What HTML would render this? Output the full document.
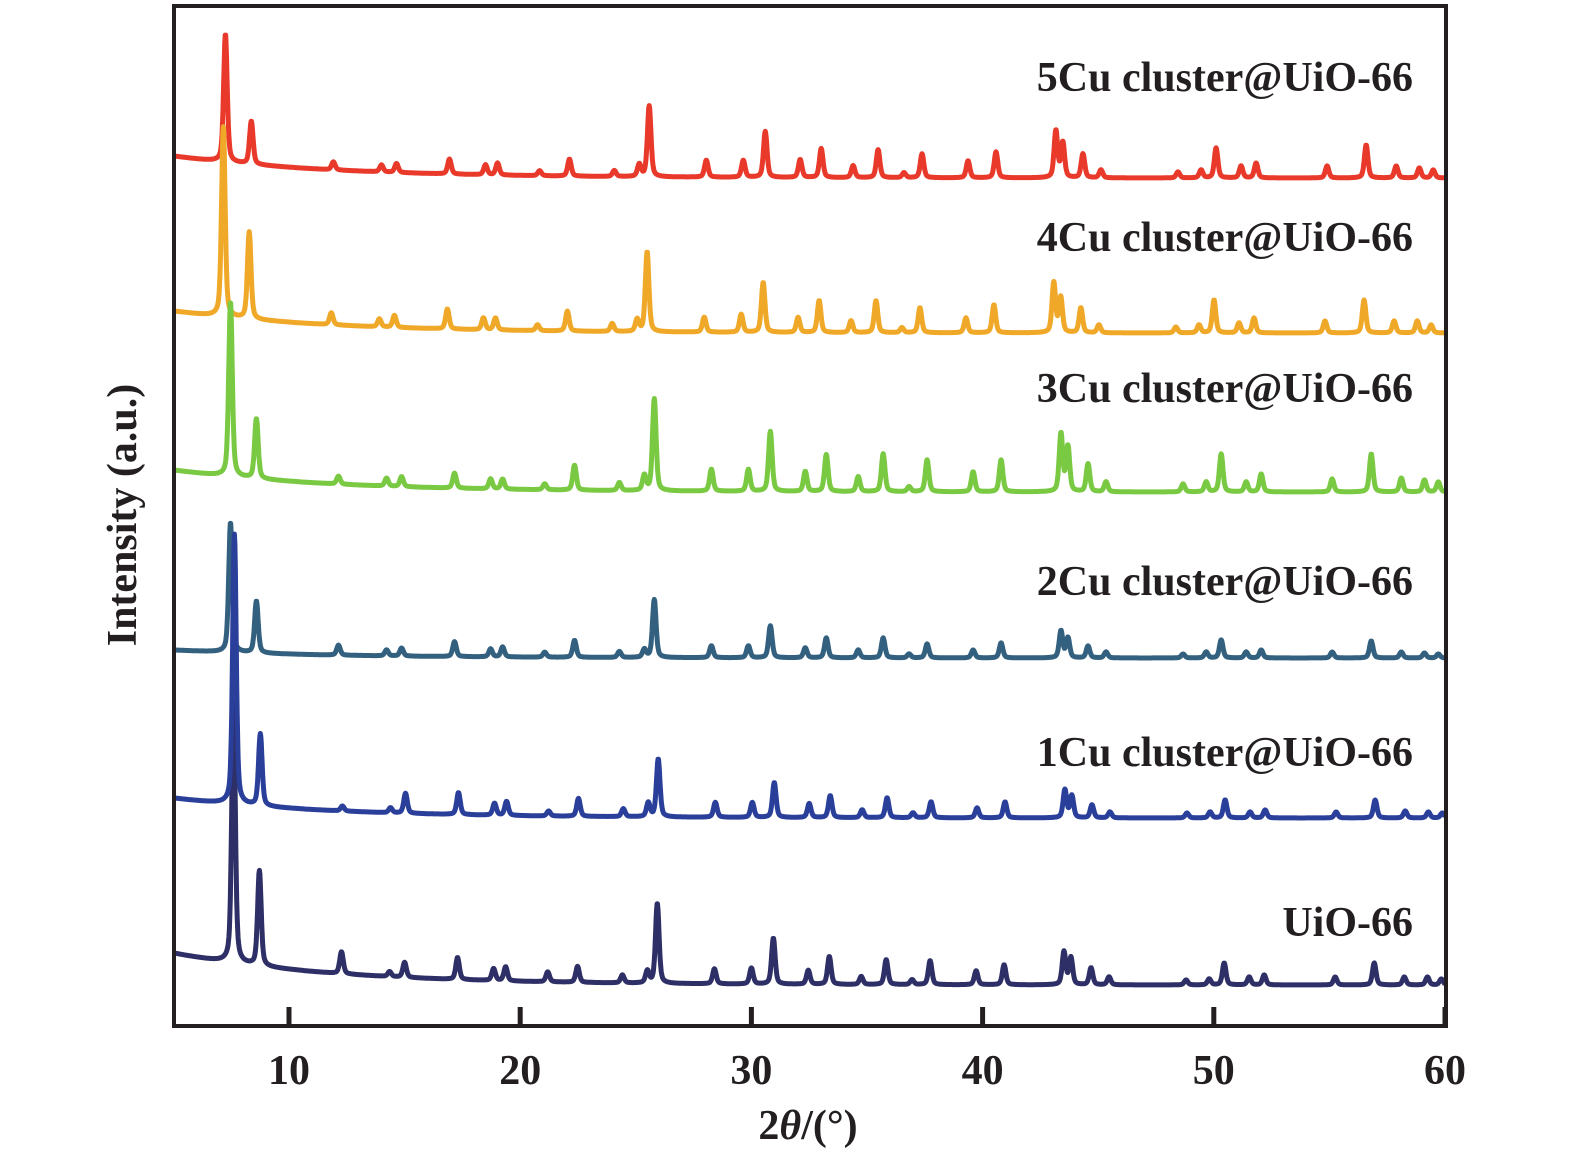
<!DOCTYPE html>
<html><head><meta charset="utf-8"><style>
html,body{margin:0;padding:0;background:#fff;}
svg{display:block;}
text{font-family:"Liberation Serif",serif;font-weight:bold;fill:#231f20;}
</style></head><body>
<svg id="chart" width="1575" height="1159" viewBox="0 0 1575 1159" xmlns="http://www.w3.org/2000/svg">
<g id="series"></g>
<g id="labels"></g>
<rect x="174" y="6" width="1272" height="1020" fill="none" stroke="#231f20" stroke-width="4"/>
<g id="ticks"></g>
<text x="808" y="1139" font-size="42" text-anchor="middle">2<tspan font-style="italic">θ</tspan>/(°)</text>
<text x="0" y="0" font-size="42" text-anchor="middle" transform="translate(136,515) rotate(-90)">Intensity (a.u.)</text>
</svg>
<script>
const xTicks = [10, 20, 30, 40, 50, 60];
const seriesNames = ["5Cu cluster@UiO-66","4Cu cluster@UiO-66","3Cu cluster@UiO-66","2Cu cluster@UiO-66","1Cu cluster@UiO-66","UiO-66"];
const seriesColors = ["#e8392a","#f0a828","#7ac943","#33607f","#2a3f9a","#2e2f66"];
// peak positions (2θ, degrees) for the 5Cu pattern
const peakPos = [7.25,8.37,11.92,14.0,14.65,16.94,18.5,19.02,20.84,22.13,24.07,25.15,25.58,28.05,29.65,30.6,32.11,33.02,34.4,35.48,36.6,37.38,39.37,40.58,43.17,43.47,44.34,45.12,48.45,49.45,50.1,51.18,51.83,54.9,56.59,57.89,58.89,59.49];
// per-series peak shift (degrees)
const peakShift = [0, -0.09, 0.22, 0.22, 0.39, 0.35];
// per-series peak intensities (a.u.)
const h5Cu = [128,43,8,7,9,15,10,12,5,17,6,12,71,17,17,46,18,29,12,28,5,24,17,26,47,35,24,8,6,8,30,12,15,12,33,12,10,8];
const h4Cu = [190,87,12,8,12,20,12,12,6,20,8,12,80,15,18,50,15,32,12,32,5,25,15,28,50,35,25,8,6,8,33,10,15,12,33,12,12,8];
const h3Cu = [175,60,8,8,10,15,10,10,6,25,8,15,92,22,22,60,20,37,15,38,5,32,20,32,58,45,28,10,8,10,38,10,18,13,38,14,12,10];
const h2Cu = [130,52,10,6,8,15,8,10,5,17,6,8,58,12,12,32,10,20,8,20,4,14,8,15,27,20,12,6,4,6,18,6,8,6,17,6,5,4];
const h1Cu = [270,72,5,5,20,22,12,14,5,18,8,14,58,15,15,35,14,22,8,20,5,16,10,16,28,22,13,6,5,6,18,6,8,6,18,7,6,5];
const hUiO = [260,95,22,5,15,22,12,14,10,16,8,12,80,15,16,46,14,28,8,25,5,24,14,20,33,27,17,8,5,6,22,8,10,8,22,8,8,6];
const seriesHeights = [h5Cu, h4Cu, h3Cu, h2Cu, h1Cu, hUiO];
// baseline level at high angle and extra rise at low angle (a.u.)
const baseLevel = [848, 693, 534, 368, 208, 41];
const baseRise = [22, 22, 22, 8, 20, 32];

const X0 = 5, X1 = 60, PX0 = 173.4, PX1 = 1445;
const xScale = v => PX0 + (v - X0) * (PX1 - PX0) / (X1 - X0);
const yScale = v => 1026 - v;
const NS = "http://www.w3.org/2000/svg";

function profile(t, c) {
  const d = t - c;
  const g = Math.exp(-d*d/(2*0.075*0.075));
  const l = 1/(1 + (d/0.1)*(d/0.1));
  return 0.6*g + 0.4*l;
}
const labelY = [91, 251, 402, 595, 766, 936];
const drawOrder = [0,1,2,3,5,4];
const gS = document.getElementById('series');
drawOrder.forEach(si => {
  const hs = seriesHeights[si];
  let d = "";
  for (let t = X0; t <= X1 + 1e-9; t += 0.02) {
    let v = baseLevel[si] + baseRise[si]*Math.exp(-(t - X0)/7);
    for (let k = 0; k < peakPos.length; k++) {
      const c = peakPos[k] + peakShift[si];
      if (Math.abs(t - c) < 3) v += hs[k]*profile(t, c);
    }
    d += (d ? "L" : "M") + xScale(t).toFixed(1) + "," + yScale(v).toFixed(1);
  }
  const p = document.createElementNS(NS, 'path');
  
  
  p.setAttribute('d', d);
  p.setAttribute('fill', 'none');
  p.setAttribute('stroke', seriesColors[si]);
  p.setAttribute('stroke-width', '5');
  p.setAttribute('stroke-linejoin', 'round');
  gS.appendChild(p);
});
const gL = document.getElementById('labels');
seriesNames.forEach((n, i) => {
  const t = document.createElementNS(NS, 'text');
  
  
  t.setAttribute('x', 1413);
  t.setAttribute('y', labelY[i]);
  t.setAttribute('font-size', '42');
  t.setAttribute('text-anchor', 'end');
  t.textContent = n;
  gL.appendChild(t);
});
const gT = document.getElementById('ticks');
xTicks.forEach(v => {
  const x = xScale(v);
  const ln = document.createElementNS(NS, 'line');
  
  
  ln.setAttribute('x1', x); ln.setAttribute('x2', x);
  ln.setAttribute('y1', 1007); ln.setAttribute('y2', 1026);
  ln.setAttribute('stroke', '#231f20'); ln.setAttribute('stroke-width', '5');
  gT.appendChild(ln);
  const t = document.createElementNS(NS, 'text');
  
  
  t.setAttribute('x', x);
  t.setAttribute('y', 1084);
  t.setAttribute('font-size', '42');
  t.setAttribute('text-anchor', 'middle');
  t.textContent = v;
  gT.appendChild(t);
});
</script>
</body></html>
